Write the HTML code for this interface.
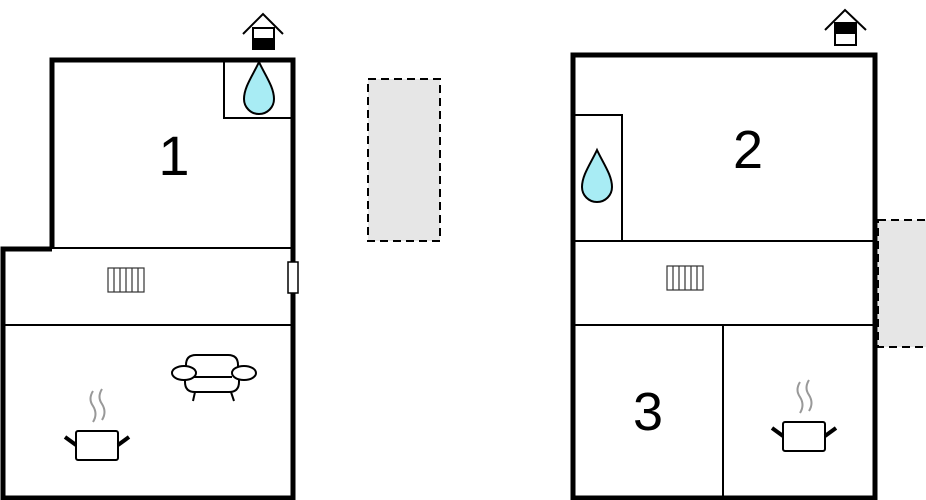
<!DOCTYPE html>
<html><head><meta charset="utf-8"><style>
html,body{margin:0;padding:0;background:#fff;width:926px;height:500px;overflow:hidden}
svg{display:block}
text{font-family:"Liberation Sans",sans-serif}
</style></head><body>
<svg width="926" height="500" viewBox="0 0 926 500" xmlns="http://www.w3.org/2000/svg">
<defs>
<g id="pot">
 <path d="M17 -40 q-5 8 0 15 q5 8 0 16 M26 -42 q-5 8 0 15 q5 8 0 16" fill="none" stroke="#999" stroke-width="2"/>
 <rect x="0" y="0" width="42" height="29" rx="2" fill="#fff" stroke="#000" stroke-width="2"/>
 <path d="M0 14 L-11 6 M42 14 L53 6" stroke="#000" stroke-width="4"/>
</g>
<g id="rad">
 <rect x="0" y="0" width="36" height="24" fill="#fff" stroke="#333" stroke-width="1.2"/>
 <path d="M6 0V24M12 0V24M18 0V24M24 0V24M30 0V24" stroke="#333" stroke-width="1.2"/>
</g>
<g id="drop">
 <path d="M0 -27 C-6 -14 -15 -2 -15 10 A15 15 0 0 0 15 10 C15 -2 6 -14 0 -27Z" fill="#a8ecf4" stroke="#000" stroke-width="2"/>
</g>
</defs>

<!-- Left plan -->
<path d="M52 248 V60 H293 V498 H3 V249 H52" fill="none" stroke="#000" stroke-width="5"/>
<path d="M52 248 H291 M5 325 H291" stroke="#000" stroke-width="2"/>
<path d="M224 60 V118 H291" fill="none" stroke="#000" stroke-width="2"/>
<use href="#drop" x="259" y="89"/>
<rect x="288" y="262" width="10" height="31" fill="#fff" stroke="#000" stroke-width="1.5"/>
<use href="#rad" x="108" y="268"/>
<text x="174" y="175" font-size="56" text-anchor="middle">1</text>
<!-- sofa -->
<g fill="#fff" stroke="#000" stroke-width="2">
 <path d="M186 372 V365 q0-10 10-10 h32 q10 0 10 10 V372"/>
 <path d="M185 375 V382 q0 10 10 10 h34 q10 0 10-10 V375"/>
 <path d="M194 377 H232"/>
 <ellipse cx="184" cy="373" rx="12" ry="7"/>
 <ellipse cx="244" cy="373" rx="12" ry="7"/>
 <path d="M195 392 L193 401 M231 392 L234 401"/>
</g>
<use href="#pot" x="76" y="431"/>
<!-- house icon left -->
<path d="M243 34 L263 14 L283 34" fill="none" stroke="#000" stroke-width="2"/>
<rect x="253" y="28" width="21" height="21" fill="#fff" stroke="#000" stroke-width="2"/>
<rect x="253" y="38" width="21" height="12" fill="#000"/>

<!-- dashed gray -->
<rect x="368" y="79" width="72" height="162" fill="#e6e6e6" stroke="#000" stroke-width="2" stroke-dasharray="8,5"/>

<!-- Right plan -->
<rect x="878" y="220" width="50" height="127" fill="#e6e6e6" stroke="#000" stroke-width="2" stroke-dasharray="8,5"/>
<rect x="573" y="55" width="302" height="443" fill="none" stroke="#000" stroke-width="5"/>
<path d="M575 241 H873 M575 325 H873 M723 325 V496" stroke="#000" stroke-width="2"/>
<path d="M575 115 H622 V241" fill="none" stroke="#000" stroke-width="2"/>
<use href="#drop" x="597" y="177"/>
<use href="#rad" x="667" y="266"/>
<text x="748" y="168" font-size="54" text-anchor="middle">2</text>
<text x="648" y="430" font-size="54" text-anchor="middle">3</text>
<use href="#pot" x="783" y="422"/>
<!-- house icon right -->
<path d="M825 30 L845 10 L866 30" fill="none" stroke="#000" stroke-width="2"/>
<rect x="835" y="23" width="21" height="22" fill="#fff" stroke="#000" stroke-width="2"/>
<rect x="835" y="23" width="21" height="11" fill="#000"/>
</svg>
</body></html>
